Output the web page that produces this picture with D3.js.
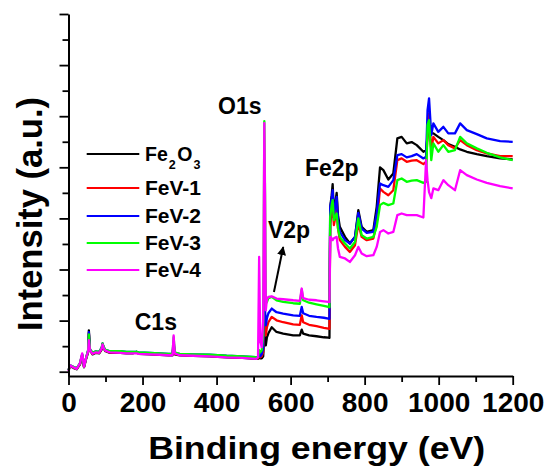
<!DOCTYPE html>
<html><head><meta charset="utf-8">
<script src="https://cdn.jsdelivr.net/npm/d3@7"></script>
<style>
html,body{margin:0;padding:0;background:#fff;}
svg{display:block;font-family:"Liberation Sans",Arial,sans-serif;font-weight:bold;}
</style></head>
<body><svg id="chart" width="550" height="470"></svg>
<script>
// ---- data (binding energy in eV, intensity in a.u.) ----
const energy = [0,4,13,22,31,37,42,48,53,55,58,65,74,83,90,92,95,100,112,140,157,175,184,190,220,247,270,281,284,287,300,337,380,427,470,508,512,515,518,522,526,529,531,533,536,540,549,562,580,607,625,630,634,650,670,690,702,705,707,711,713.6,717,724.4,728,733,747,760,774,783,792,805.6,823.5,832.6,841.6,850.6,864,877.5,888.4,900,913.7,927,940.8,958.7,966,970,974,980,985.7,999,1012.7,1026,1044,1058,1076,1103,1130,1166,1200];
const fe2o3 = [1.4,5.3,3.8,2.4,7.2,15.1,4.3,13.1,19.0,40.5,21.0,17.0,18.5,18.0,21.9,26.8,22.9,20.0,18.5,18.5,18.0,18.0,19.5,17.5,17.0,16.6,16.1,16.1,25.9,17.0,16.1,15.6,15.1,14.1,13.6,12.6,12.6,14.1,13.1,13.1,15.1,40.5,25.9,25.9,33.7,37.6,43.5,38.9,37.3,35.6,35.6,41.2,37.3,35.6,34.7,33.7,33.4,33.2,161.3,172.7,183.5,155.1,175.0,153.2,141.7,131.9,125.4,131.9,158.1,141.7,136.8,138.5,161.3,199.9,197.2,188.1,194.0,228.3,229.8,223.4,224.7,221.7,215.2,216.8,231.5,239.6,233.2,233.2,229.8,226.6,222.7,220.0,217.5,215.2,212.9,210.9,208.7,207.7];
const fev1 = [1.4,5.8,4.3,2.8,7.7,16.1,4.8,13.6,20.0,37.6,21.4,17.5,19.0,18.5,22.9,27.3,23.4,20.5,19.0,19.0,18.5,18.5,18.5,18.0,17.5,17.0,16.6,16.6,27.8,17.5,16.6,16.1,15.6,14.6,14.1,13.1,13.1,16.1,14.1,15.1,19.0,69.9,40.5,35.6,43.5,48.4,53.6,50.3,48.4,46.4,45.9,55.2,48.4,45.9,44.5,43.0,42.2,42.0,145.0,156.1,161.3,143.4,158.1,140.4,128.7,122.1,117.2,123.8,145.0,131.9,128.7,130.3,145.0,179.3,176.0,172.7,177.6,207.0,208.7,205.4,206.5,207.0,203.1,205.4,231.5,252.8,216.8,229.8,223.4,226.6,221.7,218.5,226.6,221.7,216.8,213.6,210.9,210.9];
const fev2 = [1.4,6.3,4.8,3.3,8.2,17.0,5.3,14.1,21.0,38.6,21.9,18.5,20.0,19.5,23.9,27.8,23.9,21.4,20.0,20.0,19.5,19.5,19.5,19.0,18.5,18.0,17.5,17.5,29.8,18.5,17.5,17.0,16.6,15.6,15.1,14.1,14.1,19.0,15.1,17.0,22.9,109.1,60.1,45.4,52.3,57.2,61.8,58.2,56.9,55.2,54.7,63.4,57.2,54.7,53.6,52.8,52.0,51.8,161.3,169.8,177.6,153.2,171.1,148.3,136.8,128.7,125.4,131.9,155.4,140.1,135.8,136.8,154.8,184.2,182.5,180.9,187.4,211.9,212.9,209.7,210.9,212.9,208.7,210.3,256.0,267.4,231.5,243.0,234.7,239.6,233.2,233.2,243.0,236.4,232.5,228.3,225.6,224.9];
const fev3 = [1.4,6.3,4.8,3.3,8.2,17.0,5.3,14.1,21.0,36.6,21.9,18.5,20.0,19.5,23.9,27.8,23.9,21.4,20.0,20.0,19.5,19.5,19.5,19.0,18.5,18.0,17.5,17.5,33.7,19.0,17.5,17.0,16.6,15.6,15.1,14.1,14.1,21.0,19.0,21.0,35.6,245.2,174.7,69.9,68.0,71.9,73.2,69.9,68.3,67.0,66.5,80.4,69.9,67.5,66.0,64.5,63.4,63.1,151.5,163.0,167.9,148.3,154.8,140.4,131.9,125.4,120.6,127.0,149.9,133.6,130.3,131.9,141.7,163.0,165.2,163.0,164.6,187.4,189.1,185.8,186.9,187.4,184.8,185.8,241.3,246.2,207.0,223.4,215.2,221.7,215.2,216.8,229.8,223.4,218.5,214.2,209.7,207.0];
const fev4 = [0.4,6.3,4.3,2.8,8.2,18.0,4.8,14.1,20.0,30.8,21.0,17.5,19.0,18.5,22.9,26.8,22.9,20.5,19.0,18.5,18.0,18.0,18.0,17.5,17.0,16.6,16.1,16.1,35.6,18.0,16.1,15.6,15.1,14.1,13.6,12.6,14.1,112.3,30.0,24.0,50.3,243.3,167.9,60.1,70.9,73.2,73.8,71.6,70.9,69.9,69.4,81.4,71.9,70.4,69.9,68.9,68.3,68.0,131.9,130.6,128.7,130.6,131.9,120.8,112.3,110.8,107.4,114.0,122.1,115.7,113.0,114.0,122.1,136.8,138.5,135.2,136.8,153.2,154.8,153.2,153.2,153.2,150.9,207.0,187.4,175.7,169.8,179.3,177.6,187.4,182.5,177.6,197.2,192.3,188.1,184.8,181.6,179.3];

const seriesNames = ["Fe2O3","FeV-1","FeV-2","FeV-3","FeV-4"];
const seriesValues = [fe2o3, fev1, fev2, fev3, fev4];
const seriesColors = ["#000000","#ff0000","#0000ff","#00ff00","#ff00ff"];

const xMajorTicks = [0,200,400,600,800,1000,1200];
const xMinorTicks = [100,300,500,700,900,1100];
const yMajorTicks = [0,50,100,150,200,250,300,350];
const yMinorTicks = [25,75,125,175,225,275,325];

// annotations: [label, energy, intensity]
const peakLabels = [["C1s",179,40.5],["O1s",404,251.8],["V2p",538.7,130.6],["Fe2p",638.7,191.4]];
const arrowFrom = [555, 78];
const arrowTo = [580, 122];

const xTitle = "Binding energy (eV)";
const yTitle = "Intensity (a.u.)";

// ---- drawing ----
const svg = d3.select("#chart");
svg.append("rect").attr("width",550).attr("height",470).attr("fill","#fff");

const x = d3.scaleLinear().domain([0,1200]).range([68.5,512.7]);
const y = d3.scaleLinear().domain([-4.2,350]).range([376,14]);

const line = d3.line().x((d,i)=>x(energy[i])).y(d=>y(d)).curve(d3.curveLinear);

const plot = svg.append("g");
seriesValues.forEach((vals,k)=>{
  plot.append("path").datum(vals)
    .attr("d",line).attr("fill","none")
    .attr("stroke",seriesColors[k]).attr("stroke-width",2.3)
    .attr("stroke-linejoin","round");
});

// axes
function styleAxis(g){
  g.selectAll(".domain").attr("stroke","#000").attr("stroke-width",2);
  g.selectAll(".tick line").attr("stroke","#000").attr("stroke-width",1.8);
}
const xAxisG = svg.append("g").attr("transform",`translate(0,${y.range()[0]})`)
  .call(d3.axisBottom(x).tickValues(xMajorTicks).tickSize(9).tickSizeOuter(0).tickFormat(d3.format("d")));
styleAxis(xAxisG);
xAxisG.selectAll(".tick text").attr("y",35.5).attr("dy",0)
  .attr("font-size",28).attr("font-weight","bold").attr("fill","#000")
  .attr("font-family",'"Liberation Sans",Arial,sans-serif');
const xMinorG = svg.append("g").attr("transform",`translate(0,${y.range()[0]})`)
  .call(d3.axisBottom(x).tickValues(xMinorTicks).tickSize(6).tickSizeOuter(0).tickFormat(""));
xMinorG.select(".domain").remove();
styleAxis(xMinorG);

const yAxisG = svg.append("g").attr("transform",`translate(${x.range()[0]},0)`)
  .call(d3.axisLeft(y).tickValues(yMajorTicks).tickSize(9).tickSizeOuter(0).tickFormat(""));
styleAxis(yAxisG);
const yMinorG = svg.append("g").attr("transform",`translate(${x.range()[0]},0)`)
  .call(d3.axisLeft(y).tickValues(yMinorTicks).tickSize(6).tickSizeOuter(0).tickFormat(""));
yMinorG.select(".domain").remove();
styleAxis(yMinorG);

// axis titles
svg.append("text").attr("x",316.7).attr("y",459).attr("text-anchor","middle")
  .attr("font-size",31).attr("textLength",337).attr("lengthAdjust","spacingAndGlyphs")
  .text(xTitle);
svg.append("text").attr("transform","translate(41.5,214) rotate(-90)").attr("text-anchor","middle")
  .attr("font-size",35).attr("textLength",234).attr("lengthAdjust","spacingAndGlyphs")
  .text(yTitle);

// peak labels
peakLabels.forEach(([t,e,v])=>{
  svg.append("text").attr("x",x(e)).attr("y",y(v)).attr("font-size",23).text(t);
});

// arrow
const defs = svg.append("defs");
defs.append("marker").attr("id","ah").attr("viewBox","0 0 10 10").attr("refX",9).attr("refY",5)
  .attr("markerWidth",4.5).attr("markerHeight",4.5).attr("orient","auto")
  .append("path").attr("d","M0,0L10,5L0,10Z").attr("fill","#000");
svg.append("line").attr("x1",x(arrowFrom[0])).attr("y1",y(arrowFrom[1]))
  .attr("x2",x(arrowTo[0])).attr("y2",y(arrowTo[1]))
  .attr("stroke","#000").attr("stroke-width",2).attr("marker-end","url(#ah)");

// legend
const legendY = [154,188,216,243,270];
const leg = svg.append("g");
seriesNames.forEach((n,k)=>{
  leg.append("line").attr("x1",86.7).attr("x2",139.3).attr("y1",legendY[k]).attr("y2",legendY[k])
    .attr("stroke",seriesColors[k]).attr("stroke-width",k===0?2:2.2);
  const t = leg.append("text").attr("x",145).attr("y",legendY[k]+6.7).attr("font-size",19.5);
  if(n==="Fe2O3"){
    t.append("tspan").text("Fe");
    t.append("tspan").attr("font-size",12.5).attr("dy",8).attr("dx",1).text("2");
    t.append("tspan").attr("dy",-8).attr("dx",1.5).text("O");
    t.append("tspan").attr("font-size",12.5).attr("dy",8).attr("dx",1).text("3");
  } else {
    t.attr("textLength",56).attr("lengthAdjust","spacingAndGlyphs").text(n);
  }
});
</script></body></html>
